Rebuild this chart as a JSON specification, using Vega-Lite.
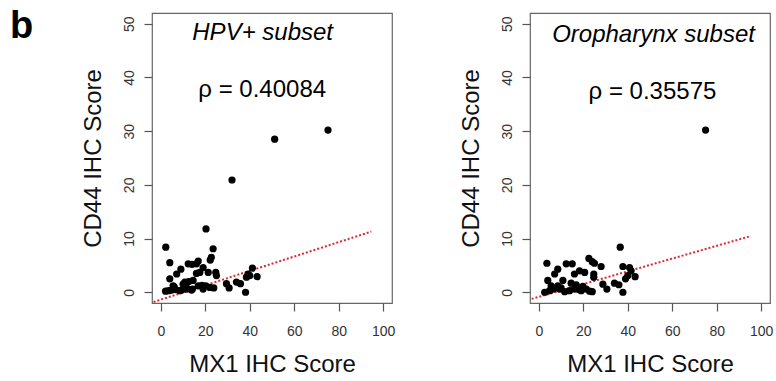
{
  "$schema": "https://vega.github.io/schema/vega-lite/v6.json",
  "padding": {"left": 10, "top": 8, "right": 2, "bottom": 2},
  "background": "white",
  "title": {"text": "b", "anchor": "start", "frame": "group", "dx": -142, "dy": 38, "fontSize": 38, "fontWeight": "bold", "font": "Liberation Sans", "color": "#000"},
  "bounds": "flush",
  "spacing": 138,
  "config": {
    "font": "Liberation Sans",
    "view": {"stroke": "#666", "strokeWidth": 1.2},
    "axis": {"domain": false, "grid": false, "tickColor": "#555", "tickSize": 8, "tickWidth": 1.2, "labelFontSize": 14, "labelColor": "#333", "labelFont": "Liberation Sans", "titleFont": "Liberation Sans", "titleFontSize": 24, "titleFontWeight": "normal", "titleColor": "#111"},
    "axisX": {"labelPadding": 13, "titlePadding": 14},
    "axisY": {"labelAngle": 270, "labelAlign": "center", "labelBaseline": "alphabetic", "labelPadding": 11, "titlePadding": 22, "titleBaseline": "alphabetic"}
  },
  "datasets": {
    "hpv": [
      {"mx1": 2.2, "cd44": 8.4}, {"mx1": 4.0, "cd44": 5.5}, {"mx1": 4.0, "cd44": 2.5}, {"mx1": 5.5, "cd44": 1.2},
      {"mx1": 2.1, "cd44": 0.2}, {"mx1": 3.5, "cd44": 0.3}, {"mx1": 4.8, "cd44": 0.4}, {"mx1": 7.1, "cd44": 3.4},
      {"mx1": 9.0, "cd44": 4.3}, {"mx1": 8.5, "cd44": 0.3}, {"mx1": 10.8, "cd44": 1.9}, {"mx1": 11.5, "cd44": 0.9},
      {"mx1": 12.3, "cd44": 5.3}, {"mx1": 14.0, "cd44": 5.2}, {"mx1": 16.0, "cd44": 5.3}, {"mx1": 16.8, "cd44": 5.8},
      {"mx1": 14.5, "cd44": 2.2}, {"mx1": 14.2, "cd44": 0.6}, {"mx1": 17.5, "cd44": 3.7}, {"mx1": 19.0, "cd44": 4.6},
      {"mx1": 16.8, "cd44": 1.2}, {"mx1": 20.3, "cd44": 11.8}, {"mx1": 20.2, "cd44": 1.2}, {"mx1": 21.3, "cd44": 3.7},
      {"mx1": 22.0, "cd44": 0.9}, {"mx1": 23.8, "cd44": 0.8}, {"mx1": 23.5, "cd44": 8.1}, {"mx1": 22.2, "cd44": 6.0},
      {"mx1": 22.7, "cd44": 6.5}, {"mx1": 24.7, "cd44": 3.7}, {"mx1": 25.0, "cd44": 3.1}, {"mx1": 29.5, "cd44": 1.6},
      {"mx1": 30.7, "cd44": 0.8}, {"mx1": 34.0, "cd44": 1.9}, {"mx1": 35.8, "cd44": 1.6}, {"mx1": 38.1, "cd44": 0.0},
      {"mx1": 38.5, "cd44": 2.8}, {"mx1": 39.2, "cd44": 3.4}, {"mx1": 41.2, "cd44": 4.5}, {"mx1": 43.3, "cd44": 2.9},
      {"mx1": 32.0, "cd44": 20.9}, {"mx1": 51.2, "cd44": 28.5}, {"mx1": 75.2, "cd44": 30.2}, {"mx1": 6.6, "cd44": 0.5},
      {"mx1": 9.3, "cd44": 0.4}, {"mx1": 11.6, "cd44": 0.6}, {"mx1": 13.8, "cd44": 0.4}, {"mx1": 16.0, "cd44": 3.5},
      {"mx1": 6.0, "cd44": 1.0}, {"mx1": 10.0, "cd44": 1.5}, {"mx1": 18.5, "cd44": 1.3}, {"mx1": 40.0, "cd44": 3.1},
      {"mx1": 19.0, "cd44": 0.6}, {"mx1": 12.5, "cd44": 2.0}
    ],
    "hpv_fit": [{"mx1": -5, "cd44": -2.04}, {"mx1": 94.7, "cd44": 11.3}],
    "oro": [
      {"mx1": 36.6, "cd44": 8.4}, {"mx1": 3.6, "cd44": 5.4}, {"mx1": 12.3, "cd44": 5.3}, {"mx1": 15.0, "cd44": 5.3},
      {"mx1": 22.5, "cd44": 6.3}, {"mx1": 24.0, "cd44": 5.7}, {"mx1": 25.0, "cd44": 5.4}, {"mx1": 28.0, "cd44": 4.8},
      {"mx1": 37.8, "cd44": 4.8}, {"mx1": 8.5, "cd44": 4.3}, {"mx1": 7.1, "cd44": 3.4}, {"mx1": 18.3, "cd44": 4.0},
      {"mx1": 16.0, "cd44": 3.4}, {"mx1": 20.6, "cd44": 3.7}, {"mx1": 24.7, "cd44": 3.4}, {"mx1": 24.7, "cd44": 2.8},
      {"mx1": 40.8, "cd44": 4.6}, {"mx1": 41.5, "cd44": 4.0}, {"mx1": 40.0, "cd44": 3.1}, {"mx1": 39.0, "cd44": 2.5},
      {"mx1": 43.3, "cd44": 2.9}, {"mx1": 4.0, "cd44": 2.2}, {"mx1": 10.8, "cd44": 2.2}, {"mx1": 14.5, "cd44": 1.7},
      {"mx1": 28.8, "cd44": 1.5}, {"mx1": 30.6, "cd44": 0.6}, {"mx1": 34.0, "cd44": 1.7}, {"mx1": 36.0, "cd44": 1.4},
      {"mx1": 37.8, "cd44": 0.0}, {"mx1": 2.6, "cd44": 0.0}, {"mx1": 4.8, "cd44": 0.3}, {"mx1": 6.6, "cd44": 0.6},
      {"mx1": 9.3, "cd44": 0.6}, {"mx1": 11.6, "cd44": 0.1}, {"mx1": 13.8, "cd44": 0.3}, {"mx1": 16.1, "cd44": 0.6},
      {"mx1": 19.0, "cd44": 0.3}, {"mx1": 21.3, "cd44": 0.6}, {"mx1": 22.8, "cd44": 0.2}, {"mx1": 24.0, "cd44": 0.1},
      {"mx1": 16.8, "cd44": 1.4}, {"mx1": 19.8, "cd44": 1.1}, {"mx1": 8.5, "cd44": 1.2}, {"mx1": 5.5, "cd44": 1.2},
      {"mx1": 75.0, "cd44": 30.2}, {"mx1": 10.0, "cd44": 0.8}, {"mx1": 18.0, "cd44": 0.5}
    ],
    "oro_fit": [{"mx1": -5, "cd44": -1.44}, {"mx1": 94.8, "cd44": 10.4}]
  },
  "hconcat": [
    {
      "width": 240,
      "height": 290,
      "layer": [
        {
          "data": {"name": "hpv_fit"},
          "mark": {"type": "line", "color": "#e3262e", "strokeDash": [2, 2], "strokeWidth": 2, "clip": true},
          "encoding": {
            "x": {"field": "mx1", "type": "quantitative", "scale": {"domain": [-4, 104], "nice": false, "zero": false}, "axis": {"values": [0, 20, 40, 60, 80, 100], "title": "MX1 IHC Score"}},
            "y": {"field": "cd44", "type": "quantitative", "scale": {"domain": [-2, 52], "nice": false, "zero": false}, "axis": {"values": [0, 10, 20, 30, 40, 50], "title": "CD44 IHC Score"}}
          }
        },
        {
          "data": {"name": "hpv"},
          "mark": {"type": "circle", "size": 52, "color": "#000", "opacity": 1},
          "encoding": {
            "x": {"field": "mx1", "type": "quantitative"},
            "y": {"field": "cd44", "type": "quantitative"}
          }
        },
        {
          "data": {"values": [{}]},
          "mark": {"type": "text", "text": "HPV+ subset", "fontStyle": "italic", "fontSize": 24, "color": "#000", "baseline": "middle"},
          "encoding": {"x": {"datum": 45.8, "type": "quantitative"}, "y": {"datum": 48.3, "type": "quantitative"}}
        },
        {
          "data": {"values": [{}]},
          "mark": {"type": "text", "text": "ρ = 0.40084", "fontSize": 24, "color": "#000", "baseline": "middle"},
          "encoding": {"x": {"datum": 45.6, "type": "quantitative"}, "y": {"datum": 37.6, "type": "quantitative"}}
        }
      ]
    },
    {
      "width": 240,
      "height": 290,
      "layer": [
        {
          "data": {"name": "oro_fit"},
          "mark": {"type": "line", "color": "#e3262e", "strokeDash": [2, 2], "strokeWidth": 2, "clip": true},
          "encoding": {
            "x": {"field": "mx1", "type": "quantitative", "scale": {"domain": [-4, 104], "nice": false, "zero": false}, "axis": {"values": [0, 20, 40, 60, 80, 100], "title": "MX1 IHC Score"}},
            "y": {"field": "cd44", "type": "quantitative", "scale": {"domain": [-2, 52], "nice": false, "zero": false}, "axis": {"values": [0, 10, 20, 30, 40, 50], "title": "CD44 IHC Score"}}
          }
        },
        {
          "data": {"name": "oro"},
          "mark": {"type": "circle", "size": 52, "color": "#000", "opacity": 1},
          "encoding": {
            "x": {"field": "mx1", "type": "quantitative"},
            "y": {"field": "cd44", "type": "quantitative"}
          }
        },
        {
          "data": {"values": [{}]},
          "mark": {"type": "text", "text": "Oropharynx subset", "fontStyle": "italic", "fontSize": 24, "color": "#000", "baseline": "middle"},
          "encoding": {"x": {"datum": 51.6, "type": "quantitative"}, "y": {"datum": 47.9, "type": "quantitative"}}
        },
        {
          "data": {"values": [{}]},
          "mark": {"type": "text", "text": "ρ = 0.35575", "fontSize": 24, "color": "#000", "baseline": "middle"},
          "encoding": {"x": {"datum": 51.1, "type": "quantitative"}, "y": {"datum": 37.2, "type": "quantitative"}}
        }
      ]
    }
  ]
}
